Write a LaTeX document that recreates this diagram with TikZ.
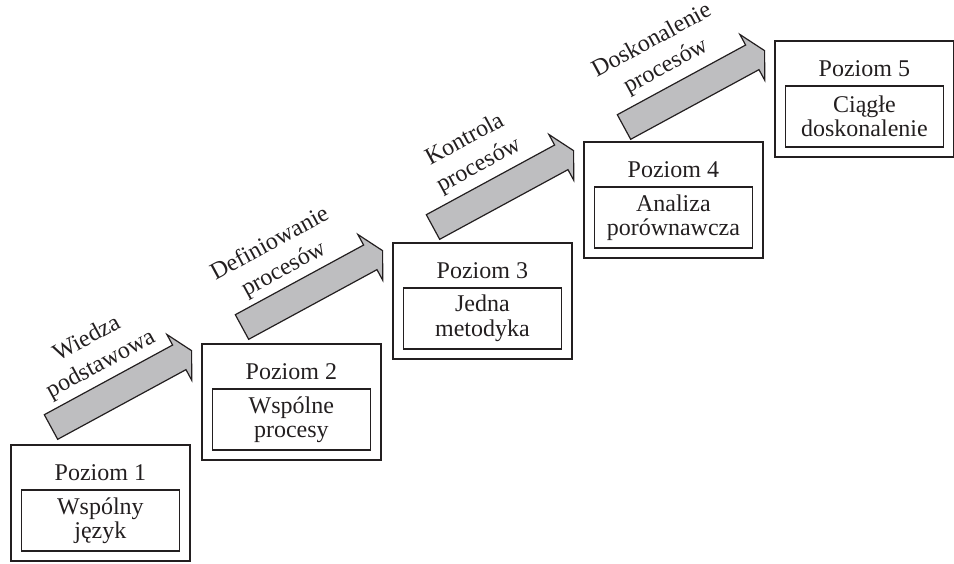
\documentclass[tikz,border=0pt]{standalone}
\usepackage{fontspec}
\setmainfont{Liberation Serif}
\usetikzlibrary{calc}
\definecolor{ink}{RGB}{35,31,32}
\definecolor{arrowgray}{RGB}{190,190,192}
\begin{document}
\begin{tikzpicture}[x=1pt,y=-1pt,
  txt/.style={font=\fontsize{24}{24.5}\selectfont, text=ink},
  outerbox/.style={draw=ink, line width=1.8pt, minimum width=179pt, minimum height=116pt, inner sep=0pt, anchor=north west},
  titletext/.style={txt, anchor=base, inner sep=0pt},
  innerbox/.style={txt, draw=ink, line width=1.8pt, minimum width=158pt, minimum height=61pt, inner sep=0pt, align=center},
  blockarrow/.style={draw=ink, line width=1.2pt, fill=arrowgray, line join=miter},
  arrowlabel/.style={font=\fontsize{24}{29}\selectfont, text=ink, align=center, rotate=28.5, inner sep=0pt}]
\useasboundingbox (0,0) rectangle (954,563);
\foreach \i/\ta/\tb in {1/Wspólny/język, 2/Wspólne/procesy, 3/Jedna/metodyka, 4/Analiza/porównawcza, 5/Ciągłe/doskonalenie}{
  \pgfmathsetmacro\X{10+191*(\i-1)}
  \pgfmathsetmacro\Y{444-101*(\i-1)}
  \node[outerbox] (box\i) at (\X,\Y) {};
  \node[titletext] (title\i) at ($(box\i.north)+(0,36)$) {Poziom \i};
  \node[innerbox] (inner\i) at ($(box\i.north)+(0,76.5)$) {\ta\\\tb};
}
\foreach \i in {1,...,4}{
  \pgfmathsetmacro\X{51+191*(\i-1)}
  \pgfmathsetmacro\Y{427-100*(\i-1)}
  \begin{scope}[shift={(\X,\Y)}, rotate=28.5]
    \draw[blockarrow] (0,-14) -- (146,-14) -- (146,-26) -- (160,0) -- (146,26) -- (146,14) -- (0,14) -- cycle;
  \end{scope}
}
\node[arrowlabel] (lab1) at (94,352) {Wiedza\\podstawowa};
\node[arrowlabel] (lab2) at (277,257) {Definiowanie\\procesów};
\node[arrowlabel] (lab3) at (472,153) {Kontrola\\procesów};
\node[arrowlabel] (lab4) at (659,54) {Doskonalenie\\procesów};
\end{tikzpicture}
\end{document}
